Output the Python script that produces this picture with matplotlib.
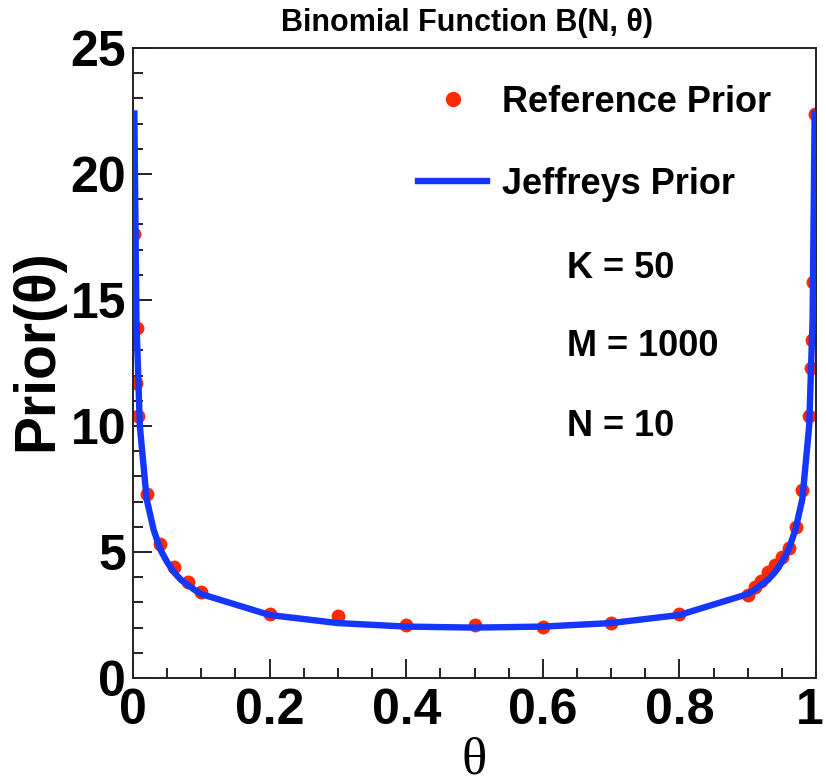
import matplotlib
matplotlib.use("Agg")
import matplotlib.pyplot as plt
import matplotlib.transforms as mtransforms
from matplotlib.ticker import MultipleLocator, FixedLocator
from matplotlib.lines import Line2D

# ---- data ----
ref_theta = [0.002, 0.004, 0.006, 0.008, 0.02, 0.04, 0.06, 0.08, 0.1,
             0.2, 0.3, 0.4, 0.5, 0.6, 0.7, 0.8,
             0.9, 0.91, 0.92, 0.93, 0.94, 0.95, 0.96, 0.97, 0.98,
             0.99, 0.992, 0.994, 0.996, 0.998]
ref_prior = [17.6, 11.7, 13.9, 10.4, 7.3, 5.3, 4.4, 3.8, 3.4,
             2.54, 2.45, 2.12, 2.12, 2.02, 2.2, 2.54,
             3.3, 3.6, 3.85, 4.2, 4.5, 4.8, 5.15, 6.0, 7.45,
             10.4, 12.3, 13.4, 15.7, 22.4]

jef_theta = [0.002, 0.005, 0.01, 0.02, 0.03, 0.04, 0.05, 0.06, 0.07, 0.08, 0.09, 0.1,
             0.2, 0.3, 0.4, 0.5, 0.6, 0.7, 0.8,
             0.9, 0.91, 0.92, 0.93, 0.94, 0.95, 0.96, 0.97, 0.98, 0.99, 0.995, 0.998]
jef_prior = [22.4, 14.2, 10.0, 7.1, 5.9, 5.1, 4.6, 4.2, 3.9, 3.7, 3.5, 3.33,
             2.5, 2.18, 2.04, 2.0, 2.04, 2.18, 2.5,
             3.33, 3.5, 3.7, 3.9, 4.2, 4.6, 5.1, 5.9, 7.1, 10.0, 14.2, 22.4]

xticks = [0, 0.2, 0.4, 0.6, 0.8, 1]
xticklabels = ["0", "0.2", "0.4", "0.6", "0.8", "1"]
yticks = [0, 5, 10, 15, 20, 25]
yticklabels = ["0", "5", "10", "15", "20", "25"]

title = "Binomial Function B(N, \u03b8)"
xlabel = "\u03b8"
ylabel = "Prior(\u03b8)"
legend_labels = ["Reference Prior", "Jeffreys Prior"]
params = ["K = 50", "M = 1000", "N = 10"]

RED = "#ff2a00"
BLUE = "#1536ff"
SANS = ["Liberation Sans", "DejaVu Sans"]

fig = plt.figure(figsize=(8.26, 7.84), dpi=100)
ax = fig.add_axes([133/826, 1-678/784, (816-133)/826, (678-48)/784])

ax.plot(jef_theta, jef_prior, color=BLUE, lw=4.6, solid_joinstyle="round", zorder=3)
ax.plot(ref_theta, ref_prior, linestyle="none", marker="o", ms=10, color=RED,
        markeredgewidth=0, zorder=2)

ax.set_xlim(0, 1)
ax.set_ylim(0, 25)

ax.xaxis.set_major_locator(FixedLocator(xticks))
ax.set_xticklabels(xticklabels)
ax.xaxis.set_minor_locator(MultipleLocator(0.05))
ax.yaxis.set_major_locator(FixedLocator(yticks))
ax.set_yticklabels(yticklabels)
ax.yaxis.set_minor_locator(MultipleLocator(1))

ax.tick_params(which="both", direction="in", top=False, right=False, width=1.4, color="#222222")
ax.tick_params(which="major", length=14)
ax.tick_params(which="minor", length=7)
ax.tick_params(axis="x", pad=7)
ax.tick_params(axis="y", pad=5)
for lab in ax.get_xticklabels() + ax.get_yticklabels():
    lab.set_fontfamily(SANS)
    lab.set_fontweight("bold")
    lab.set_fontsize(36)
last = ax.get_xticklabels()[-1]
last.set_transform(last.get_transform() + mtransforms.ScaledTranslation(-6/100, 0, fig.dpi_scale_trans))
for sp in ax.spines.values():
    sp.set_linewidth(1.4)
    sp.set_color("#222222")

ax.set_xlabel(xlabel, fontsize=38, family=["Liberation Serif", "DejaVu Serif"], labelpad=2)
ax.set_ylabel(ylabel, fontsize=41, fontweight="bold", family=SANS)
ax.yaxis.set_label_coords((64-133)/683, (678-350)/630)
fig.text(467/826, 1-23/784, title, ha="center", va="center", fontsize=22,
         fontweight="bold", family=SANS)

handles = [Line2D([], [], linestyle="none", marker="o", ms=11, color=RED, markeredgewidth=0),
           Line2D([], [], color=BLUE, lw=4.6)]
leg = ax.legend(handles, legend_labels, loc="upper left",
                bbox_to_anchor=(418/826, 1-85/784), bbox_transform=fig.transFigure,
                frameon=False, borderpad=0, borderaxespad=0,
                handlelength=1.92, handletextpad=0.42, labelspacing=1.3,
                prop={"family": SANS, "weight": "bold", "size": 26})

for txt, ypix in zip(params, [268, 347, 427]):
    ax.text((567-133)/683, (678-ypix)/630, txt, transform=ax.transAxes,
            ha="left", va="center", fontsize=26, fontweight="bold", family=SANS)

fig.savefig("out.png", dpi=100, facecolor="white")
